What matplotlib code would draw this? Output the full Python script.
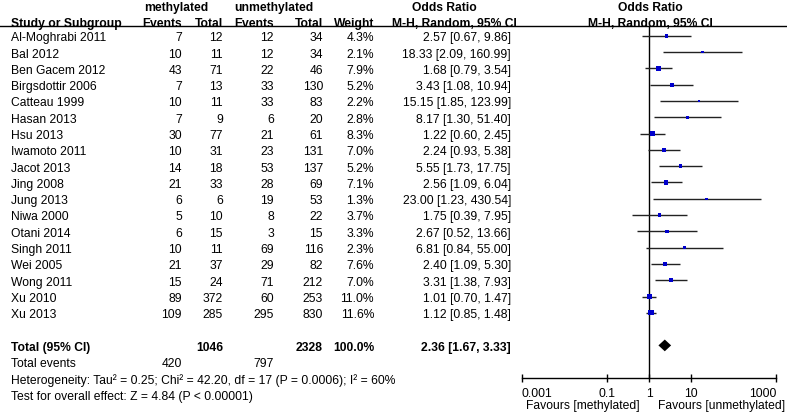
'''
Forest plot: methylated vs unmethylated, odds ratios (M-H, random).
'''

import numpy as np
import matplotlib
matplotlib.use('Agg')
import matplotlib.pyplot as plt
from matplotlib.transforms import blended_transform_factory

plt.rcParams['font.family'] = ['Liberation Sans', 'DejaVu Sans']
plt.rcParams['font.size'] = 8.7

#Study data
studies = ['Al-Moghrabi 2011', 'Bal 2012', 'Ben Gacem 2012', 'Birgsdottir 2006',
           'Catteau 1999', 'Hasan 2013', 'Hsu 2013', 'Iwamoto 2011', 'Jacot 2013',
           'Jing 2008', 'Jung 2013', 'Niwa 2000', 'Otani 2014', 'Singh 2011',
           'Wei 2005', 'Wong 2011', 'Xu 2010', 'Xu 2013']
meth_events = [7, 10, 43, 7, 10, 7, 30, 10, 14, 21, 6, 5, 6, 10, 21, 15, 89, 109]
meth_total = [12, 11, 71, 13, 11, 9, 77, 31, 18, 33, 6, 10, 15, 11, 37, 24, 372, 285]
unmeth_events = [12, 12, 22, 33, 33, 6, 21, 23, 53, 28, 19, 8, 3, 69, 29, 71, 60, 295]
unmeth_total = [34, 34, 46, 130, 83, 20, 61, 131, 137, 69, 53, 22, 15, 116, 82, 212, 253, 830]
weight = [4.3, 2.1, 7.9, 5.2, 2.2, 2.8, 8.3, 7.0, 5.2, 7.1, 1.3, 3.7, 3.3, 2.3, 7.6, 7.0, 11.0, 11.6]
odds = [2.57, 18.33, 1.68, 3.43, 15.15, 8.17, 1.22, 2.24, 5.55, 2.56, 23.00, 1.75, 2.67, 6.81, 2.40, 3.31, 1.01, 1.12]
ci_low = [0.67, 2.09, 0.79, 1.08, 1.85, 1.30, 0.60, 0.93, 1.73, 1.09, 1.23, 0.39, 0.52, 0.84, 1.09, 1.38, 0.70, 0.85]
ci_high = [9.86, 160.99, 3.54, 10.94, 123.99, 51.40, 2.45, 5.38, 17.75, 6.04, 430.54, 7.95, 13.66, 55.00, 5.30, 7.93, 1.47, 1.48]

#Pooled result
total_meth, total_unmeth, total_weight = 1046, 2328, 100.0
events_meth, events_unmeth = 420, 797
pooled_or, pooled_low, pooled_high = 2.36, 1.67, 3.33
heterogeneity = 'Heterogeneity: Tau² = 0.25; Chi² = 42.20, df = 17 (P = 0.0006); I² = 60%'
overall = 'Test for overall effect: Z = 4.84 (P < 0.00001)'
ticks = [0.001, 0.1, 1, 10, 1000]
tick_labels = ['0.001', '0.1', '1', '10', '1000']

W, H = 787, 413
fig = plt.figure(figsize=(W / 100, H / 100), dpi=100)
ax = fig.add_axes([522 / W, 1 - 378 / H, 254 / W, (378 - 26) / H])
ax.set_xscale('log')
ax.set_xlim(0.001, 1000)
ax.set_ylim(21.0, -0.6)

rows = np.arange(len(studies))
ax.hlines(rows, ci_low, ci_high, color='#222222', lw=1.0, zorder=2)
ax.scatter(odds, rows, marker='s', s=1.1 * np.array(weight) + 1.5,
           color='#0000CC', lw=0, zorder=3)

#Pooled diamond
total_row = len(studies) + 1
ax.fill([pooled_low, pooled_or, pooled_high, pooled_or],
        [total_row, total_row - 0.36, total_row, total_row + 0.36],
        color='black', lw=0, zorder=3)

ax.axvline(1, color='black', lw=1.0, zorder=1)

for side in ['top', 'right', 'left']:
    ax.spines[side].set_visible(False)
ax.spines['bottom'].set_linewidth(1.0)
ax.set_yticks([])
ax.set_xticks(ticks)
ax.set_xticklabels(tick_labels)
ax.minorticks_off()
ax.tick_params(axis='x', direction='inout', length=6, width=1.0, pad=4.5)
labels = ax.get_xticklabels()
labels[0].set_ha('left')
labels[-1].set_ha('right')

ax.annotate('Favours [methylated]', xy=(1, 0), xycoords=('data', 'axes fraction'),
            xytext=(-9, -28), textcoords='offset pixels', ha='right', va='center')
ax.annotate('Favours [unmethylated]', xy=(1, 0), xycoords=('data', 'axes fraction'),
            xytext=(9, -28), textcoords='offset pixels', ha='left', va='center')

#Table text: x in pixels of the figure, y in rows
tr = blended_transform_factory(fig.transFigure, ax.transData)


def put(x, y, s, ha='right', bold=False):
    ax.text(x / W, y + 0.15, s, transform=tr, ha=ha, va='center',
            fontweight='bold' if bold else 'normal', clip_on=False)


#Header
put(176, -1.85, 'methylated', ha='center', bold=True)
put(274, -1.85, 'unmethylated', ha='center', bold=True)
put(444, -1.85, 'Odds Ratio', ha='center', bold=True)
put(650, -1.85, 'Odds Ratio', ha='center', bold=True)
put(11, -0.9, 'Study or Subgroup', ha='left', bold=True)
put(182, -0.9, 'Events', bold=True)
put(223, -0.9, 'Total', bold=True)
put(274, -0.9, 'Events', bold=True)
put(323, -0.9, 'Total', bold=True)
put(374, -0.9, 'Weight', bold=True)
put(454, -0.9, 'M-H, Random, 95% CI', ha='center', bold=True)
put(650, -0.9, 'M-H, Random, 95% CI', ha='center', bold=True)
ax.plot([0, 1], [-0.6, -0.6], transform=tr, color='black', lw=1.0, clip_on=False)

for i, name in enumerate(studies):
    put(11, i, name, ha='left')
    put(182, i, str(meth_events[i]))
    put(223, i, str(meth_total[i]))
    put(274, i, str(unmeth_events[i]))
    put(323, i, str(unmeth_total[i]))
    put(374, i, f'{weight[i]:.1f}%')
    put(511, i, f'{odds[i]:.2f} [{ci_low[i]:.2f}, {ci_high[i]:.2f}]')

put(11, total_row, 'Total (95% CI)', ha='left', bold=True)
put(223, total_row, str(total_meth), bold=True)
put(323, total_row, str(total_unmeth), bold=True)
put(374, total_row, f'{total_weight:.1f}%', bold=True)
put(511, total_row, f'{pooled_or:.2f} [{pooled_low:.2f}, {pooled_high:.2f}]', bold=True)
put(11, total_row + 1, 'Total events', ha='left')
put(182, total_row + 1, str(events_meth))
put(274, total_row + 1, str(events_unmeth))
put(11, total_row + 2, heterogeneity, ha='left')
put(11, total_row + 3, overall, ha='left')

fig.savefig('out.png', dpi=100)
plt.close()
